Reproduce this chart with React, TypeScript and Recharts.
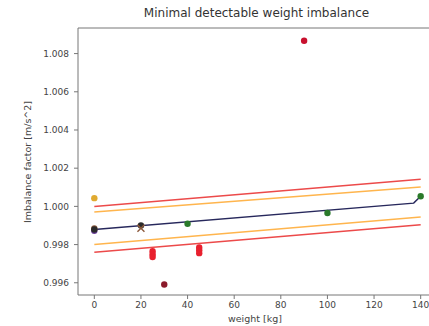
import React from "react";
import { ComposedChart, Line, ReferenceLine, Scatter, XAxis, YAxis } from "recharts";

// fitted trend and detection bounds (weight in kg -> imbalance factor)
const fitX = [0, 137, 140];
const fitY = [0.99879, 1.00017, 1.00053];
const boundX = [0, 140];
const redUpperY = [1.0, 1.00142];
const orangeUpperY = [0.9997, 1.00102];
const orangeLowerY = [0.998, 0.99944];
const redLowerY = [0.9976, 0.99904];

// measurements
const redX = [25, 25, 25, 45, 45, 45];
const redY = [0.99765, 0.9975, 0.99735, 0.99785, 0.9977, 0.99755];
const outlierX = [90];
const outlierY = [1.00867];
const darkRedX = [30];
const darkRedY = [0.99591];
const greenX = [40, 100, 140];
const greenY = [0.99909, 0.99965, 1.00053];
const blackX = [0, 20];
const blackY = [0.99879, 0.999];
const purpleX = [0];
const purpleY = [0.99872];
const brownX = [0];
const brownY = [0.99884];
const goldX = [0];
const goldY = [1.00043];
const crossX = [20];
const crossY = [0.99885];

const xTicks = [0, 20, 40, 60, 80, 100, 120, 140];
const yTicks = [0.996, 0.998, 1.0, 1.002, 1.004, 1.006, 1.008];
const xDomain = [-7, 147];
const yDomain = [0.99536, 1.00934];

const zip = (xs: number[], ys: number[]) => xs.map((x, i) => ({ x, y: ys[i] }));

const dot = (color: string, r = 3.2) => (p: any) => <circle cx={p.cx} cy={p.cy} r={r} fill={color} />;

const xMark = (color: string) => (p: any) => (
  <g stroke={color} strokeWidth={1.4}>
    <line x1={p.cx - 3.5} y1={p.cy - 3.5} x2={p.cx + 3.5} y2={p.cy + 3.5} />
    <line x1={p.cx - 3.5} y1={p.cy + 3.5} x2={p.cx + 3.5} y2={p.cy - 3.5} />
  </g>
);

const font = "'DejaVu Sans', sans-serif";

export default function App() {
  const tickStyle = { fill: "#444", fontSize: 9, fontFamily: font };
  return (
    <div style={{ position: "fixed", left: 0, top: 0, width: 429, height: 326, overflow: "hidden", background: "#fff" }}>
      <div style={{ position: "absolute", left: 0, width: 513, top: 6, textAlign: "center", fontFamily: font, fontSize: 12, color: "#333" }}>
        Minimal detectable weight imbalance
      </div>
      <div style={{ position: "absolute", left: 228, top: 313, fontFamily: font, fontSize: 9.5, color: "#444", whiteSpace: "nowrap" }}>
        weight [kg]
      </div>
      <div
        style={{
          position: "absolute", left: 27, top: 162, transform: "translate(-50%, -50%) rotate(-90deg)",
          fontFamily: font, fontSize: 9.5, color: "#444", whiteSpace: "nowrap",
        }}
      >
        Imbalance factor [m/s^2]
      </div>
      <ComposedChart width={445} height={326} margin={{ top: 28, right: 8, bottom: 0, left: 0 }}>
        <XAxis
          dataKey="x" type="number" domain={xDomain} ticks={xTicks} allowDataOverflow
          height={31} tick={tickStyle} tickSize={4} tickMargin={3}
          stroke="#777" tickLine={{ stroke: "#777" }}
        />
        <YAxis
          dataKey="y" type="number" domain={yDomain} ticks={yTicks} allowDataOverflow
          width={78} tick={tickStyle} tickSize={4} tickMargin={5}
          tickFormatter={(v: number) => v.toFixed(3)} stroke="#777"
        />
        <ReferenceLine y={yDomain[1]} stroke="#777" />
        <Line data={zip(boundX, redUpperY)} dataKey="y" stroke="#ec4a4a" strokeWidth={1.5} dot={false} isAnimationActive={false} />
        <Line data={zip(boundX, orangeUpperY)} dataKey="y" stroke="#ffb54d" strokeWidth={1.5} dot={false} isAnimationActive={false} />
        <Line data={zip(boundX, orangeLowerY)} dataKey="y" stroke="#ffb54d" strokeWidth={1.5} dot={false} isAnimationActive={false} />
        <Line data={zip(boundX, redLowerY)} dataKey="y" stroke="#ec4a4a" strokeWidth={1.5} dot={false} isAnimationActive={false} />
        <Line data={zip(fitX, fitY)} dataKey="y" stroke="#27285c" strokeWidth={1.5} dot={false} isAnimationActive={false} />
        <Scatter data={zip(redX, redY)} shape={dot("#e8202e")} isAnimationActive={false} />
        <Scatter data={zip(outlierX, outlierY)} shape={dot("#c8102e")} isAnimationActive={false} />
        <Scatter data={zip(darkRedX, darkRedY)} shape={dot("#8b1a2b")} isAnimationActive={false} />
        <Scatter data={zip(greenX, greenY)} shape={dot("#2a7a2a")} isAnimationActive={false} />
        <Scatter data={zip(goldX, goldY)} shape={dot("#e0aa30")} isAnimationActive={false} />
        <Scatter data={zip(purpleX, purpleY)} shape={dot("#6a3d9a")} isAnimationActive={false} />
        <Scatter data={zip(brownX, brownY)} shape={dot("#8c5a3c")} isAnimationActive={false} />
        <Scatter data={zip(blackX, blackY)} shape={dot("#2a2a2a")} isAnimationActive={false} />
        <Scatter data={zip(crossX, crossY)} shape={xMark("#8c5a3c")} isAnimationActive={false} />
      </ComposedChart>
    </div>
  );
}
